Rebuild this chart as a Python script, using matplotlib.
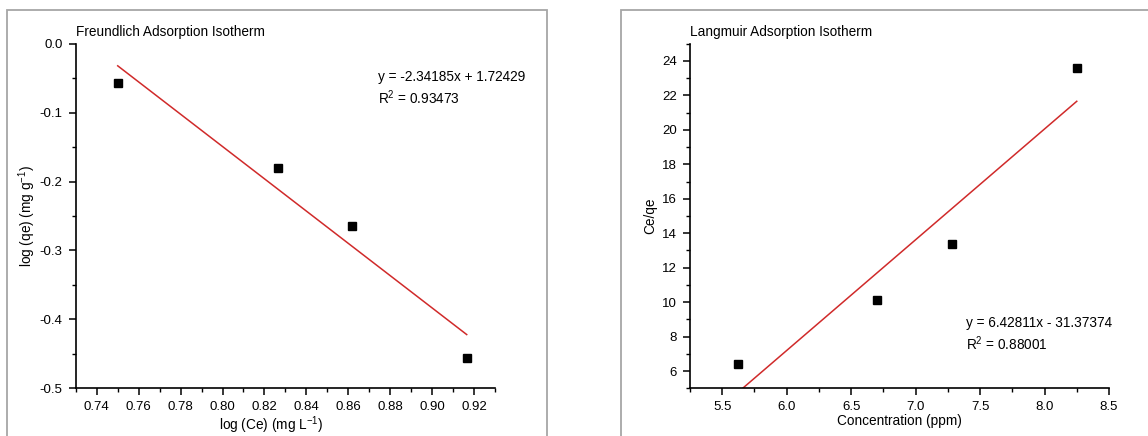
import numpy as np
import matplotlib.pyplot as plt
from matplotlib.patches import Rectangle
from matplotlib.ticker import MultipleLocator

plt.rcParams['font.family'] = ['Liberation Sans', 'DejaVu Sans']
plt.rcParams['mathtext.fontset'] = 'custom'
plt.rcParams['mathtext.rm'] = 'Liberation Sans'
plt.rcParams['mathtext.it'] = 'Liberation Sans:italic'

# Freundlich data
log_ce = [0.750, 0.8265, 0.862, 0.9165]
log_qe = [-0.057, -0.181, -0.264, -0.456]
fr_slope, fr_intercept, fr_r2 = -2.34185, 1.72429, 0.93473

# Langmuir data
conc = [5.62, 6.70, 7.28, 8.25]
ce_qe = [6.4, 10.15, 13.35, 23.6]
la_slope, la_intercept, la_r2 = 6.42811, -31.37374, 0.88001

W, H = 1148, 436
fig = plt.figure(figsize=(W / 100, H / 100), dpi=100)

# grey frames around each panel
fig.patches.append(Rectangle((7 / W, -0.05), 540 / W, 1.05 - 10 / H,
                             transform=fig.transFigure, fill=False,
                             edgecolor='#a6a6a6', linewidth=1.3))
fig.patches.append(Rectangle((621 / W, -0.05), 0.5, 1.05 - 10 / H,
                             transform=fig.transFigure, fill=False,
                             edgecolor='#a6a6a6', linewidth=1.3))

ax1 = fig.add_axes([75.8 / W, 1 - 388.3 / H, 419.2 / W, 344.6 / H])
ax2 = fig.add_axes([690 / W, 1 - 388.3 / H, 419 / W, 344.6 / H])

red = '#d02a2a'


def style(ax):
    for s in ['top', 'right']:
        ax.spines[s].set_visible(False)
    for s in ['left', 'bottom']:
        ax.spines[s].set_linewidth(1.2)
    ax.tick_params(which='major', direction='out', length=5, width=1.1,
                   labelsize=9.5, pad=4.5)
    ax.tick_params(which='minor', direction='out', length=3, width=1.0)


# Freundlich
xf = np.array([min(log_ce), max(log_ce)])
ax1.plot(xf, fr_slope * xf + fr_intercept, color=red, lw=1.1)
ax1.plot(log_ce, log_qe, 's', color='black', ms=5.6)
ax1.set_xlim(0.73, 0.93)
ax1.set_ylim(-0.5, 0.0)
ax1.set_xticks(np.arange(0.74, 0.921, 0.02))
ax1.xaxis.set_minor_locator(MultipleLocator(0.01))
ax1.yaxis.set_major_locator(MultipleLocator(0.1))
ax1.yaxis.set_minor_locator(MultipleLocator(0.05))
ax1.xaxis.set_major_formatter(plt.FormatStrFormatter('%.2f'))
ax1.yaxis.set_major_formatter(plt.FormatStrFormatter('%.1f'))
style(ax1)
ax1.set_xlabel('log (Ce) (mg L$^{-1}$)', fontsize=9.8)
ax1.set_ylabel('log (qe) (mg g$^{-1}$)', fontsize=9.8)
ax1.xaxis.set_label_coords(0.467, -0.075)
ax1.yaxis.set_label_coords(-0.091, 0.5)
ax1.text(0.0, 1.035, 'Freundlich Adsorption Isotherm', transform=ax1.transAxes,
         fontsize=9.8, va='center', ha='left')
ax1.text(0.721, 0.903, f'y = {fr_slope}x + {fr_intercept}', transform=ax1.transAxes,
         fontsize=9.8, va='center', ha='left')
ax1.text(0.721, 0.842, f'R$^2$ = {fr_r2}', transform=ax1.transAxes,
         fontsize=9.8, va='center', ha='left')

# Langmuir
xl = np.array([min(conc), max(conc)])
ax2.plot(xl, la_slope * xl + la_intercept, color=red, lw=1.1)
ax2.plot(conc, ce_qe, 's', color='black', ms=5.6)
ax2.set_xlim(5.25, 8.5)
ax2.set_ylim(5, 25)
ax2.set_xticks(np.arange(5.5, 8.51, 0.5))
ax2.xaxis.set_minor_locator(MultipleLocator(0.25))
ax2.set_yticks(np.arange(6, 24.1, 2))
ax2.yaxis.set_minor_locator(MultipleLocator(1))
ax2.xaxis.set_major_formatter(plt.FormatStrFormatter('%.1f'))
style(ax2)
ax2.set_xlabel('Concentration (ppm)', fontsize=9.8)
ax2.set_ylabel('Ce/qe', fontsize=9.8)
ax2.xaxis.set_label_coords(0.5, -0.075)
ax2.yaxis.set_label_coords(-0.079, 0.5)
ax2.text(0.0, 1.035, 'Langmuir Adsorption Isotherm', transform=ax2.transAxes,
         fontsize=9.8, va='center', ha='left')
ax2.text(0.659, 0.189, f'y = {la_slope}x - {abs(la_intercept)}', transform=ax2.transAxes,
         fontsize=9.8, va='center', ha='left')
ax2.text(0.659, 0.128, f'R$^2$ = {la_r2:.5f}', transform=ax2.transAxes,
         fontsize=9.8, va='center', ha='left')

fig.savefig('out.png', dpi=100)
